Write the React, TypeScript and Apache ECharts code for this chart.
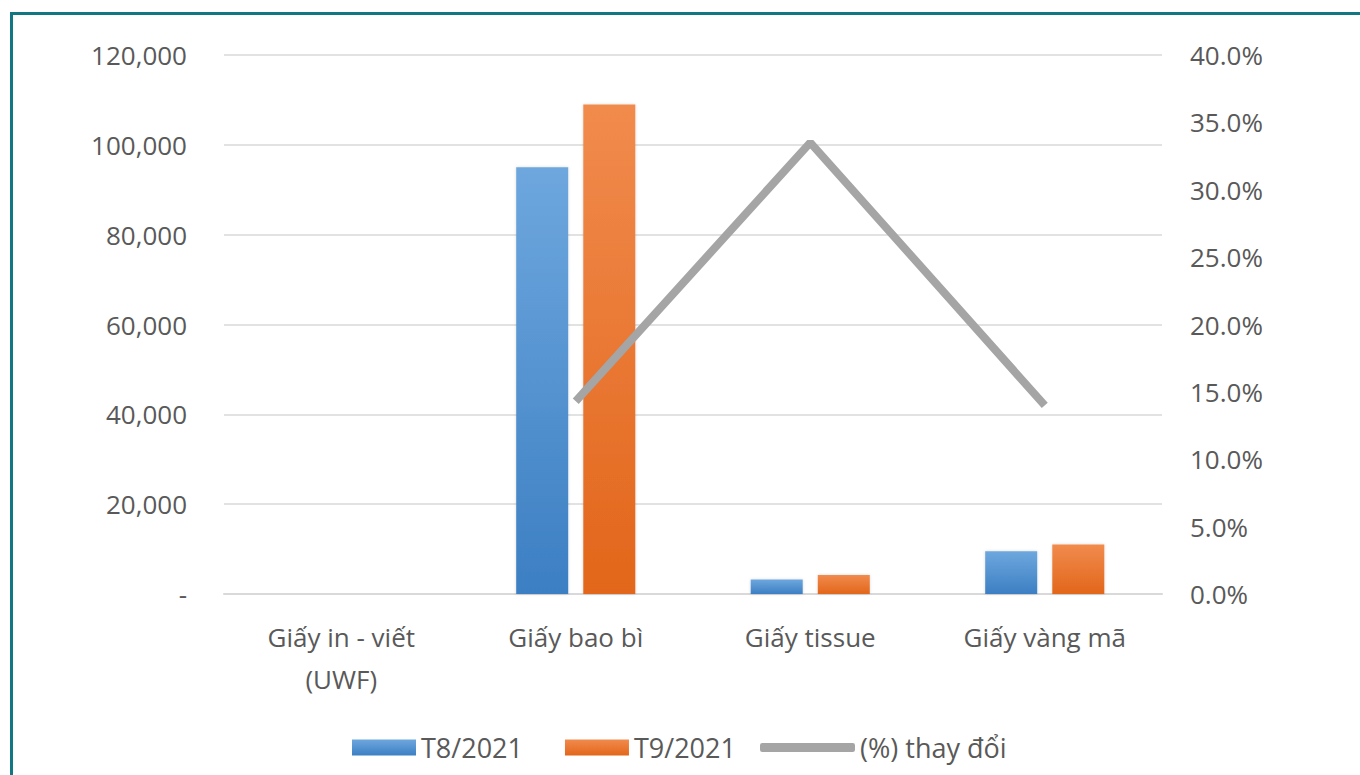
import React, { useEffect, useRef } from "react";
import * as echarts from "echarts";

const categories = ["Giấy in - viết\n(UWF)", "Giấy bao bì", "Giấy tissue", "Giấy vàng mã"];
const t8Values = [0, 95000, 3250, 9500];
const t9Values = [0, 109000, 4250, 11000];
const changePct = [null, 14.3, 33.5, 14.0];
const leftTicks = { min: 0, max: 120000, interval: 20000 };
const rightTicks = { min: 0, max: 40, interval: 5 };

const FONT = "'Open Sans', 'Noto Sans', sans-serif";
const TXT = "#595959";

export default function App() {
  const ref = useRef<HTMLDivElement>(null);
  useEffect(() => {
    if (!ref.current) return;
    const chart = echarts.init(ref.current, undefined, { renderer: "svg" });
    const blue = new echarts.graphic.LinearGradient(0, 0, 0, 1, [
      { offset: 0, color: "#6ea7de" },
      { offset: 1, color: "#3c7fc3" },
    ]);
    const orange = new echarts.graphic.LinearGradient(0, 0, 0, 1, [
      { offset: 0, color: "#f18b4d" },
      { offset: 1, color: "#e2661b" },
    ]);
    chart.setOption({
      animation: false,
      backgroundColor: "#ffffff",
      textStyle: { fontFamily: FONT },
      grid: { left: 224, right: 198, top: 55, bottom: 181, containLabel: false },
      graphic: [
        {
          type: "rect",
          shape: { x: 11.5, y: 13.5, width: 1400, height: 800 },
          style: { fill: "none", stroke: "#137683", lineWidth: 3 },
          silent: true,
        },
      ],
      legend: [
        {
          data: ["T8/2021", "T9/2021"],
          left: 352,
          top: 734,
          padding: 0,
          itemWidth: 64,
          itemHeight: 16,
          itemGap: 42,
          textStyle: { fontSize: 27, color: TXT, fontFamily: FONT },
          icon: "rect",
        },
        {
          data: [{ name: "(%) thay đổi", icon: "roundRect" }],
          left: 760,
          top: 734,
          padding: 0,
          itemWidth: 95,
          itemHeight: 9,
          textStyle: { fontSize: 27, color: TXT, fontFamily: FONT },
        },
      ],
      xAxis: {
        type: "category",
        data: categories,
        axisLine: { lineStyle: { color: "#d9d9d9", width: 2 } },
        axisTick: { show: false },
        axisLabel: {
          color: TXT,
          fontSize: 26,
          lineHeight: 42,
          margin: 22,
          fontFamily: FONT,
          interval: 0,
        },
      },
      yAxis: [
        {
          type: "value",
          ...leftTicks,
          axisLine: { show: false },
          axisTick: { show: false },
          splitLine: { lineStyle: { color: "#d9d9d9", width: 1.5 } },
          axisLabel: {
            color: TXT,
            fontSize: 26,
            margin: 37,
            fontFamily: FONT,
            formatter: (v: number) => (v === 0 ? "-" : v.toLocaleString("en-US")),
          },
        },
        {
          type: "value",
          ...rightTicks,
          axisLine: { show: false },
          axisTick: { show: false },
          splitLine: { show: false },
          axisLabel: {
            color: TXT,
            fontSize: 26,
            margin: 28,
            fontFamily: FONT,
            formatter: (v: number) => v.toFixed(1) + "%",
          },
        },
      ],
      series: [
        {
          name: "T8/2021",
          type: "bar",
          data: t8Values,
          barWidth: 52,
          barGap: "29%",
          itemStyle: { color: blue, shadowColor: "rgba(0,0,0,0.15)", shadowBlur: 3 },
        },
        {
          name: "T9/2021",
          type: "bar",
          data: t9Values,
          barWidth: 52,
          itemStyle: { color: orange, shadowColor: "rgba(0,0,0,0.15)", shadowBlur: 3 },
        },
        {
          name: "(%) thay đổi",
          type: "line",
          yAxisIndex: 1,
          data: changePct,
          symbol: "none",
          connectNulls: false,
          itemStyle: { color: "#a5a5a5" },
          lineStyle: { color: "#a5a5a5", width: 8 },
        },
      ],
    });
    return () => chart.dispose();
  }, []);
  return (
    <div
      ref={ref}
      style={{ position: "fixed", left: 0, top: 0, width: 1360, height: 775 }}
    />
  );
}
